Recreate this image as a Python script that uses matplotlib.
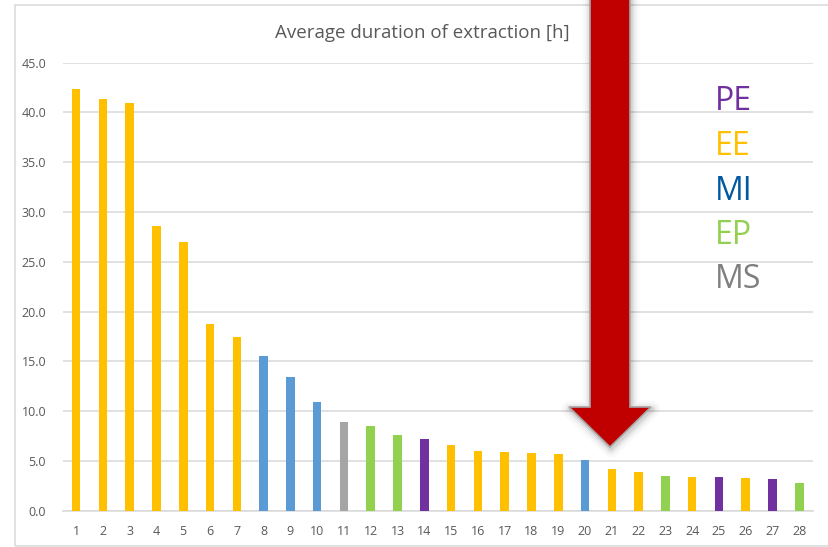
import matplotlib
matplotlib.use("Agg")
import matplotlib.pyplot as plt
from matplotlib.patches import Polygon, Rectangle

# average duration per run, grouped by type
runs = list(range(1, 29))
hours = [42.4, 41.4, 41.0, 28.6, 27.0, 18.8, 17.4, 15.5, 13.4, 10.9,
         8.9, 8.5, 7.6, 7.2, 6.6, 6.0, 5.9, 5.8, 5.7, 5.1,
         4.2, 3.9, 3.5, 3.4, 3.4, 3.3, 3.2, 2.8]
groups = ['EE', 'EE', 'EE', 'EE', 'EE', 'EE', 'EE', 'MI', 'MI', 'MI',
          'MS', 'EP', 'EP', 'PE', 'EE', 'EE', 'EE', 'EE', 'EE', 'MI',
          'EE', 'EE', 'EP', 'EE', 'PE', 'EE', 'PE', 'EP']
legend_order = ['PE', 'EE', 'MI', 'EP', 'MS']

bar_colors = {'PE': '#7030A0', 'EE': '#FFC000', 'MI': '#5B9BD5',
              'EP': '#92D050', 'MS': '#A5A5A5'}
text_colors = {'PE': '#7030A0', 'EE': '#FFC000', 'MI': '#0058A3',
               'EP': '#92D050', 'MS': '#7F7F7F'}

plt.rcParams['font.family'] = ['Open Sans', 'DejaVu Sans']

W, H = 829, 547
fig = plt.figure(figsize=(W / 100, H / 100), dpi=100)
ax = fig.add_axes([62.7 / W, 1 - 510.7 / H, 750 / W, 448 / H])

ax.bar(runs, hours, width=0.32, color=[bar_colors[g] for g in groups], zorder=3)
ax.set_xlim(0.5, 28.5)
ax.set_ylim(0, 45)
ax.set_yticks([0, 5, 10, 15, 20, 25, 30, 35, 40, 45])
ax.set_yticklabels([f'{v:.1f}' for v in ax.get_yticks()])
ax.set_xticks(runs)
ax.grid(axis='y', color='#D9D9D9', linewidth=1.1, zorder=0)
for side in ['top', 'right', 'left']:
    ax.spines[side].set_visible(False)
ax.spines['bottom'].set_color('#D9D9D9')
ax.spines['bottom'].set_linewidth(1.1)
ax.tick_params(axis='both', length=0, labelsize=9, labelcolor='#595959')
ax.tick_params(axis='y', pad=12)
ax.tick_params(axis='x', pad=10)

fig.text(422 / W, 1 - 33 / H, 'Average duration of extraction [h]',
         ha='center', va='center', fontsize=13.5, color='#595959')

# chart frame
fig.patches.append(Rectangle((14.7 / W, 1 - 546 / H), 1.0, (546 - 5.3) / H,
                             transform=fig.transFigure, fill=False,
                             edgecolor='#D9D9D9', linewidth=1.1))

# group labels on the right
for i, g in enumerate(legend_order):
    fig.text(715 / W, 1 - (102 + 44.5 * i) / H, g, ha='left', va='center',
             fontsize=23, color=text_colors[g])

# big red arrow pointing down, with a soft shadow
arrow_px = [(590, -5), (630, -5), (630, 407), (651, 407), (610, 447),
            (569, 407), (590, 407)]
arrow_fig = [(x / W, 1 - y / H) for x, y in arrow_px]
shadow = [(x + 1 / W, y - 2 / H) for x, y in arrow_fig]
for lw, a in [(12, 0.025), (8, 0.035), (5, 0.05), (2.5, 0.07)]:
    fig.patches.append(Polygon(shadow, closed=True, transform=fig.transFigure,
                               facecolor='none', edgecolor='black',
                               linewidth=lw, alpha=a, joinstyle='round'))
fig.patches.append(Polygon(arrow_fig, closed=True, transform=fig.transFigure,
                           facecolor='#C00000', edgecolor='#A6A6A6',
                           linewidth=1.2, joinstyle='miter'))

fig.savefig('out.png', dpi=100)
